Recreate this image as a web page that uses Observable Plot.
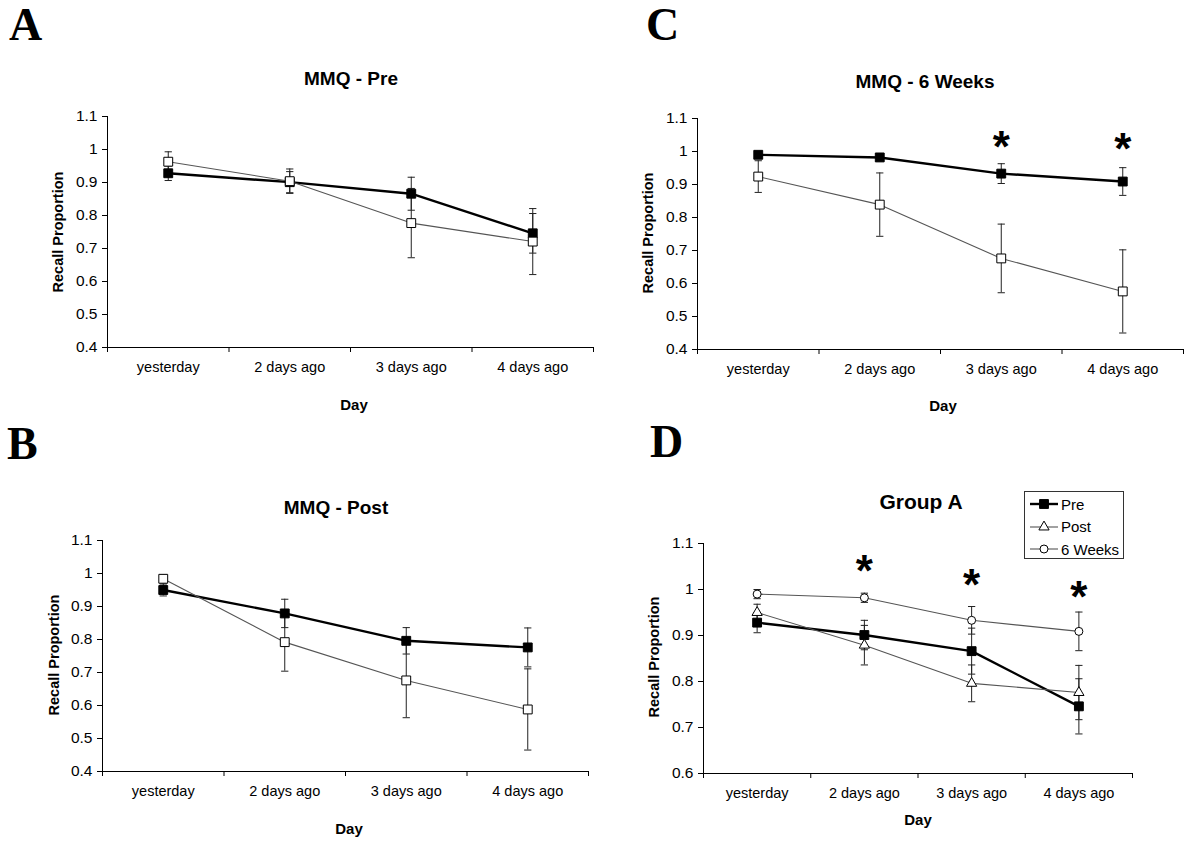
<!DOCTYPE html>
<html><head><meta charset="utf-8">
<script src="https://cdn.jsdelivr.net/npm/d3@7"></script>
<script src="https://cdn.jsdelivr.net/npm/@observablehq/plot@0.6"></script>
<style>
html,body{margin:0;padding:0;background:#fff;}
#root{position:relative;width:1200px;height:866px;overflow:hidden;font-family:"Liberation Sans",Arial,sans-serif;color:#000;}
.abs{position:absolute;white-space:nowrap;line-height:1;}
.letter{font-family:"Liberation Serif","Times New Roman",serif;font-weight:bold;font-size:46px;line-height:0.8;}
.title{font-weight:bold;font-size:19px;transform:translate(-50%,-50%);}
.ylab{font-weight:bold;font-size:14.5px;transform:translate(-50%,-50%) rotate(-90deg);}
.xlab{font-weight:bold;font-size:15px;transform:translate(-50%,-50%);}
.legend{border:1px solid #333;background:#fff;box-sizing:border-box;}
.legrow{position:absolute;left:4px;height:20px;display:flex;align-items:center;font-size:15px;}
</style></head><body><div id="root"></div>
<script>
// ---------- data ----------
const days = ["yesterday", "2 days ago", "3 days ago", "4 days ago"];
const yTicksMMQ = [0.4, 0.5, 0.6, 0.7, 0.8, 0.9, 1.0, 1.1];
const yTicksGroup = [0.6, 0.7, 0.8, 0.9, 1.0, 1.1];

// Group A (filled squares in panels A–C, all three series in panel D)
const groupAPre = [0.928, 0.901, 0.866, 0.746];
const groupAPreErr = [0.022, 0.032, 0.050, 0.060];
const groupAPost = [0.950, 0.879, 0.796, 0.776];
const groupAPostErr = [0.018, 0.043, 0.040, 0.059];
const groupA6w = [0.990, 0.982, 0.933, 0.909];
const groupA6wErr = [0.010, 0.010, 0.030, 0.042];

// Group B (open squares in panels A–C)
const groupBPre = [0.963, 0.904, 0.777, 0.721];
const groupBPreErr = [0.030, 0.037, 0.105, 0.100];
const groupBPost = [0.984, 0.792, 0.676, 0.588];
const groupBPostErr = [0.012, 0.088, 0.113, 0.123];
const groupB6w = [0.924, 0.839, 0.676, 0.576];
const groupB6wErr = [0.048, 0.096, 0.104, 0.126];

// significance asterisks: category index and height
const starsCDay = [2, 3];
const starsCHeight = [1.035, 1.028];
const starsDDay = [1, 2, 3];
const starsDHeight = [1.055, 1.025, 0.998];

// ---------- styles ----------
const FILLED_SQ = {lineStroke: "#000", lineWidth: 2.4, symbol: "square", fill: "#000", r: 5};
const OPEN_SQ = {lineStroke: "#555", lineWidth: 1.1, symbol: "square", fill: "#fff", r: 5};
const OPEN_TRI = {lineStroke: "#555", lineWidth: 1.1, symbol: "triangle", fill: "#fff", r: 3.8};
const OPEN_CIR = {lineStroke: "#555", lineWidth: 1.1, symbol: "circle", fill: "#fff", r: 4};
const capSymbol = {draw(ctx, size) { const w = Math.sqrt(size) / 2; ctx.moveTo(-w, 0); ctx.lineTo(w, 0); }};
const FONT = '"Liberation Sans", Arial, sans-serif';

const root = document.getElementById("root");
function addDiv(cls, text, left, top) {
  const d = document.createElement("div");
  d.className = "abs " + cls;
  d.textContent = text;
  d.style.left = left + "px";
  d.style.top = top + "px";
  root.appendChild(d);
  return d;
}

function drawPanel(cfg) {
  const [x0, x1, y0, y1] = cfg.frame;
  const pad = {l: 62, r: 20, t: 25, b: 45};
  const width = x1 - x0 + pad.l + pad.r, height = y1 - y0 + pad.t + pad.b;
  const idx = days.map((d, i) => i);
  const bounds = d3.range(days.length + 1).map(i => i - 0.5);
  const marks = [
    Plot.ruleX([bounds[0]], {stroke: "#000"}),
    Plot.ruleY([cfg.yDomain[0]], {stroke: "#000"}),
    Plot.axisY({ticks: cfg.yTicks, tickSize: 5, tickPadding: 5, tickFormat: d3.format("~g"), fontSize: 15.5, label: null}),
    Plot.axisX({ticks: bounds, tickSize: 5, tickFormat: () => "", label: null}),
    Plot.axisX({ticks: idx, tickSize: 0, tickPadding: 14, tickFormat: i => days[i], fontSize: 14.5, label: null})
  ];
  const rowsOf = s => s.values.map((v, i) => ({i, v, lo: v - s.errors[i], hi: v + s.errors[i]}));
  for (const s of cfg.series) {
    const rows = rowsOf(s);
    marks.push(Plot.ruleX(rows, {x: "i", y1: "lo", y2: "hi", stroke: "#222", strokeWidth: 1}));
    marks.push(Plot.dot(rows, {x: "i", y: "lo", symbol: capSymbol, r: 4.1, stroke: "#222", strokeWidth: 1}));
    marks.push(Plot.dot(rows, {x: "i", y: "hi", symbol: capSymbol, r: 4.1, stroke: "#222", strokeWidth: 1}));
  }
  for (const s of cfg.series) {
    const rows = rowsOf(s);
    marks.push(Plot.line(rows, {x: "i", y: "v", stroke: s.style.lineStroke, strokeWidth: s.style.lineWidth}));
    marks.push(Plot.dot(rows, {x: "i", y: "v", symbol: s.style.symbol, r: s.style.r, fill: s.style.fill, stroke: "#000", strokeWidth: 1}));
  }
  if (cfg.starDays) {
    const stars = cfg.starDays.map((d, k) => ({i: d, h: cfg.starHeights[k]}));
    marks.push(Plot.text(stars, {x: "i", y: "h", text: () => "*", fontSize: 44, fontWeight: "bold", dy: 7.5, fill: "#000"}));
  }
  const chart = Plot.plot({
    width, height,
    marginLeft: pad.l, marginRight: pad.r, marginTop: pad.t, marginBottom: pad.b,
    x: {type: "linear", domain: [bounds[0], bounds[bounds.length - 1]]},
    y: {domain: cfg.yDomain},
    style: {fontFamily: FONT, fontSize: "14.5px", color: "#000", background: "transparent", overflow: "visible"},
    marks
  });
  chart.style.position = "absolute";
  chart.style.left = (x0 - pad.l) + "px";
  chart.style.top = (y0 - pad.t) + "px";
  root.appendChild(chart);

  addDiv("letter", cfg.letter, cfg.letterPos[0], cfg.letterPos[1]);
  addDiv("title", cfg.title, cfg.titlePos[0], cfg.titlePos[1]).style.fontSize = cfg.titleSize + "px";
  addDiv("ylab", "Recall Proportion", cfg.ylabPos[0], cfg.ylabPos[1]);
  addDiv("xlab", "Day", cfg.xlabPos[0], cfg.xlabPos[1]);
}

drawPanel({
  letter: "A", letterPos: [9, 7], title: "MMQ - Pre", titlePos: [351, 78], titleSize: 19,
  ylabPos: [58, 232], xlabPos: [354, 404],
  frame: [107, 593, 116, 347], yDomain: [0.4, 1.1], yTicks: yTicksMMQ,
  series: [
    {values: groupAPre, errors: groupAPreErr, style: FILLED_SQ},
    {values: groupBPre, errors: groupBPreErr, style: OPEN_SQ}
  ]
});
drawPanel({
  letter: "B", letterPos: [7, 426], title: "MMQ - Post", titlePos: [336, 507], titleSize: 19,
  ylabPos: [54, 655], xlabPos: [349, 828],
  frame: [102, 588, 540, 771], yDomain: [0.4, 1.1], yTicks: yTicksMMQ,
  series: [
    {values: groupAPost, errors: groupAPostErr, style: FILLED_SQ},
    {values: groupBPost, errors: groupBPostErr, style: OPEN_SQ}
  ]
});
drawPanel({
  letter: "C", letterPos: [646, 7], title: "MMQ - 6 Weeks", titlePos: [925, 81], titleSize: 19,
  ylabPos: [648, 233], xlabPos: [943, 405],
  frame: [697, 1183, 118, 349], yDomain: [0.4, 1.1], yTicks: yTicksMMQ,
  series: [
    {values: groupA6w, errors: groupA6wErr, style: FILLED_SQ},
    {values: groupB6w, errors: groupB6wErr, style: OPEN_SQ}
  ],
  starDays: starsCDay, starHeights: starsCHeight
});
drawPanel({
  letter: "D", letterPos: [650, 424], title: "Group A", titlePos: [921, 501], titleSize: 21,
  ylabPos: [654, 657], xlabPos: [918, 819],
  frame: [703, 1132, 543, 773], yDomain: [0.6, 1.1], yTicks: yTicksGroup,
  series: [
    {values: groupAPre, errors: groupAPreErr, style: FILLED_SQ},
    {values: groupAPost, errors: groupAPostErr, style: OPEN_TRI},
    {values: groupA6w, errors: groupA6wErr, style: OPEN_CIR}
  ],
  starDays: starsDDay, starHeights: starsDHeight
});

// ---------- legend for panel D ----------
const legendLabels = ["Pre", "Post", "6 Weeks"];
const legendStyles = [FILLED_SQ, OPEN_TRI, OPEN_CIR];
const legend = document.createElement("div");
legend.className = "abs legend";
Object.assign(legend.style, {left: "1024px", top: "491px", width: "100px", height: "68px"});
root.appendChild(legend);
legendLabels.forEach((lab, k) => {
  const st = legendStyles[k];
  const row = document.createElement("div");
  row.className = "legrow";
  row.style.top = (2 + k * 22.5) + "px";
  const svg = d3.create("svg").attr("width", 30).attr("height", 20).style("margin-right", "2px");
  svg.append("line").attr("x1", 1).attr("x2", 29).attr("y1", 10).attr("y2", 10)
    .attr("stroke", st.lineStroke).attr("stroke-width", st.lineWidth);
  const symType = {square: d3.symbolSquare, triangle: d3.symbolTriangle, circle: d3.symbolCircle}[st.symbol];
  svg.append("path").attr("transform", "translate(15,10)")
    .attr("d", d3.symbol(symType, st.r * st.r * Math.PI)())
    .attr("fill", st.fill).attr("stroke", "#000");
  row.appendChild(svg.node());
  const t = document.createElement("span");
  t.textContent = lab;
  row.appendChild(t);
  legend.appendChild(row);
});
</script></body></html>
